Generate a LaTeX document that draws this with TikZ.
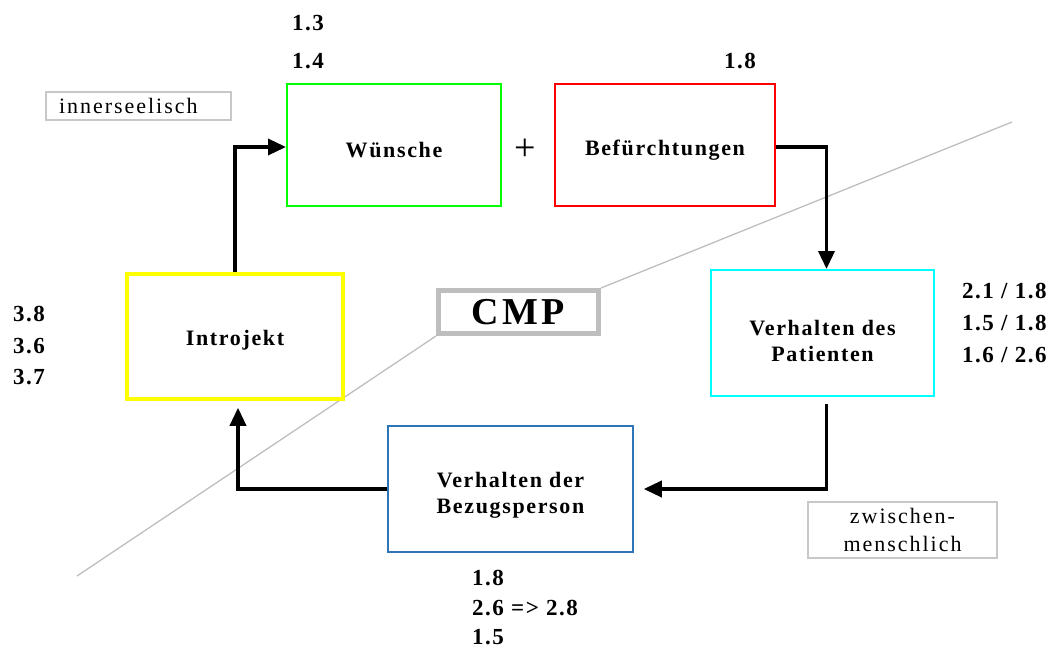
\documentclass[tikz,border=0pt]{standalone}
\usepackage{fontspec}
\setmainfont{Liberation Serif}[LetterSpace=9]
\newfontfamily\boxfont{Liberation Serif}[LetterSpace=7.5]
\newfontfamily\numfont{Liberation Serif}[LetterSpace=6.5]
\newfontfamily\plainfont{Liberation Serif}
\usetikzlibrary{arrows.meta,calc}
\definecolor{cgreen}{RGB}{0,255,0}
\definecolor{cred}{RGB}{255,0,0}
\definecolor{ccyan}{RGB}{0,255,255}
\definecolor{cyellow}{RGB}{255,255,0}
\definecolor{cblue}{RGB}{46,117,182}
\definecolor{tgray}{RGB}{200,200,200}
\definecolor{lgray}{RGB}{190,190,190}
\begin{document}
\begin{tikzpicture}[x=1pt,y=-1pt,
  box/.style={draw, rectangle, inner sep=0pt, line width=2pt},
  btxt/.style={font=\boxfont\fontsize{22}{26}\selectfont\bfseries, align=center, inner sep=0pt},
  num/.style={font=\numfont\fontsize{23}{26}\selectfont\bfseries, anchor=base west, inner sep=0pt},
  arr/.style={line width=3.5pt, -{Triangle[length=18pt,width=16pt]}},
  tag/.style={draw=tgray, line width=1.5pt, inner sep=0pt, font=\fontsize{22}{28}\selectfont},
  diag/.style={draw=lgray, line width=1.3pt}]
\useasboundingbox (0,0) rectangle (1055,648);

% diagonal separator
\node[draw=lgray, line width=5pt, minimum width=160pt, minimum height=43pt, inner sep=0pt,
      font=\fontsize{38}{40}\selectfont\bfseries, fill=white] (cmp) at (518.5,312) {CMP};
\coordinate (d1) at (77,576);
\coordinate (d2) at (1012,122);
\draw[diag] (d1) -- (cmp.south west);
\draw[diag] (cmp.north east) -- (d2);

% boxes
\node[box, draw=cgreen, minimum width=214pt, minimum height=122pt] (w) at (394,145) {};
\node[box, draw=cred, minimum width=220pt, minimum height=122pt] (b) at (665,145) {};
\node[box, draw=cyellow, line width=3.5pt, minimum width=216pt, minimum height=125pt] (intro) at (235,336.5) {};
\node[box, draw=ccyan, minimum width=223pt, minimum height=126pt] (p) at (822.5,333) {};
\node[box, draw=cblue, line width=1.5pt, minimum width=245pt, minimum height=126pt] (bz) at (510.5,489) {};

% box texts
\node[btxt] (wt) at ($(w.center)+(0,5)$) {Wünsche};
\node[btxt] (bt) at ($(b.center)+(0,5)$) {Befürchtungen};
\node[btxt] (it) at ($(intro.center)+(0,4)$) {Introjekt};
\node[btxt] (pt) at ($(p.center)+(0,8)$) {Verhalten des\\Patienten};
\node[btxt] (bzt) at ($(bz.center)+(0,6)$) {Verhalten der\\Bezugsperson};

\node[font=\plainfont\fontsize{38}{38}\selectfont, inner sep=0pt] (plus) at (525,150) {+};

% tags
\node[tag, minimum width=185pt, minimum height=28pt, text width=159pt, inner xsep=13pt, align=left] (inn) at (138.5,106) {innerseelisch};
\node[tag, minimum width=189pt, minimum height=56pt, align=center] (zw) at (902.5,530) {zwischen-\\menschlich};

% numbers
\node[num] (n13) at (292,30) {1.3};
\node[num] (n14) at (292,68) {1.4};
\node[num] (n18a) at (724,68) {1.8};
\node[num] (n38) at (13,321) {3.8};
\node[num] (n36) at (13,353) {3.6};
\node[num] (n37) at (13,384) {3.7};
\node[num] (r1) at (962,298) {2.1 / 1.8};
\node[num] (r2) at (962,330) {1.5 / 1.8};
\node[num] (r3) at (962,362) {1.6 / 2.6};
\node[num] (u1) at (472,585) {1.8};
\node[num] (u2) at (472,615) {2.6 => 2.8};
\node[num] (u3) at (472,644) {1.5};

% arrows
\draw[arr] (intro.north) |- ($(w.west)+(0,2)$);
\draw[arr] ($(b.east)+(0,2)$) -| ($(p.north)+(4,0)$);
\draw[arr, shorten <=7pt, shorten >=10pt] ($(p.south)+(4,0)$) |- (bz.east);
\draw[arr, shorten >=7pt] (bz.west) -| ($(intro.south)+(3,0)$);
\end{tikzpicture}
\end{document}
